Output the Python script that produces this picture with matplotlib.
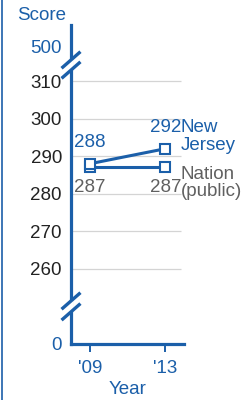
import matplotlib.pyplot as plt
from matplotlib.lines import Line2D

# -----------------------------
# Data
# -----------------------------
years = [2009, 2013]
year_labels = ["'09", "'13"]
new_jersey = [288, 292]
nation = [287, 287]

grid_values = [260, 270, 280, 290, 300, 310]
tick_labels = ["0", "260", "270", "280", "290", "300", "310", "500"]

BLUE = "#1b5fa9"
GRAY = "#606060"
FS = 13.5

plt.rcParams["font.family"] = ["Liberation Sans", "DejaVu Sans"]

fig = plt.figure(figsize=(2.45, 4.0), dpi=100)
ax = fig.add_axes([0.2898, 0.14, 0.4612, 0.7975])

# broken axis: "0" sits at the bottom, "500" above the upper break
y_bottom, y_top = 240.05, 324.9
pos_zero, pos_500 = y_bottom, 319.3
ax.set_xlim(2008.0, 2013.98)
ax.set_ylim(y_bottom, y_top)

# gridlines
ax.hlines(grid_values, 2008.05, 2013.8, color="#d4d4d4", lw=0.9, zorder=1)

# lines with open square markers
ax.plot(years, nation, color=BLUE, lw=2.2, marker="s", ms=7.5,
        mfc="white", mec=BLUE, mew=1.5, zorder=3)
ax.plot(years, new_jersey, color=BLUE, lw=2.2, marker="s", ms=7.5,
        mfc="white", mec=BLUE, mew=1.5, zorder=4)

# value labels
for x, y in zip(years, new_jersey):
    ax.annotate(f"{y}", (x, y), xytext=(0, 15), textcoords="offset points",
                ha="center", va="center", fontsize=FS, color=BLUE)
for x, y in zip(years, nation):
    ax.annotate(f"{y}", (x, y), xytext=(0, -14.5), textcoords="offset points",
                ha="center", va="center", fontsize=FS, color=GRAY)

ax.annotate("New\nJersey", (years[-1], new_jersey[-1]), xytext=(11, 8.6),
            textcoords="offset points", ha="left", va="center", fontsize=FS,
            color=BLUE, linespacing=1.05, annotation_clip=False)
ax.annotate("Nation\n(public)", (years[-1], nation[-1]), xytext=(11, -11.2),
            textcoords="offset points", ha="left", va="center", fontsize=FS,
            color=GRAY, linespacing=1.05, annotation_clip=False)

# axes styling
for side in ["top", "right"]:
    ax.spines[side].set_visible(False)
for side in ["left", "bottom"]:
    ax.spines[side].set_color(BLUE)
    ax.spines[side].set_linewidth(2.3)

ax.set_xticks(years)
ax.set_xticklabels(year_labels)
ax.tick_params(axis="x", direction="out", length=5.8, width=1.4, color=BLUE,
               labelcolor=BLUE, labelsize=FS, pad=5.5)

ax.set_yticks([pos_zero] + grid_values + [pos_500])
ax.set_yticklabels(tick_labels)
ax.tick_params(axis="y", length=0, labelsize=FS, pad=6.5, labelcolor="#222222")
for lbl in (ax.get_yticklabels()[0], ax.get_yticklabels()[-1]):
    lbl.set_color(BLUE)

# axis break marks
x_axis = 2008.0
for centers in [(312.9, 315.6), (248.6, 251.5)]:
    ax.plot([x_axis, x_axis], list(centers), color="white", lw=4,
            clip_on=False, zorder=5, solid_capstyle="butt")
    for c in centers:
        ax.plot([x_axis - 0.5, x_axis + 0.5], [c - 2.2, c + 2.2], color=BLUE,
                lw=2.4, clip_on=False, zorder=6, solid_capstyle="butt")

# titles
fig.text(42 / 245, 1 - 15 / 400, "Score", color=BLUE, fontsize=FS,
         ha="center", va="center")
fig.text(128 / 245, 1 - 389 / 400, "Year", color=BLUE, fontsize=FS,
         ha="center", va="center")

# left border line
fig.add_artist(Line2D([2 / 245, 2 / 245], [0, 1], color=BLUE, lw=1.2))

fig.savefig("out.png", dpi=100)
